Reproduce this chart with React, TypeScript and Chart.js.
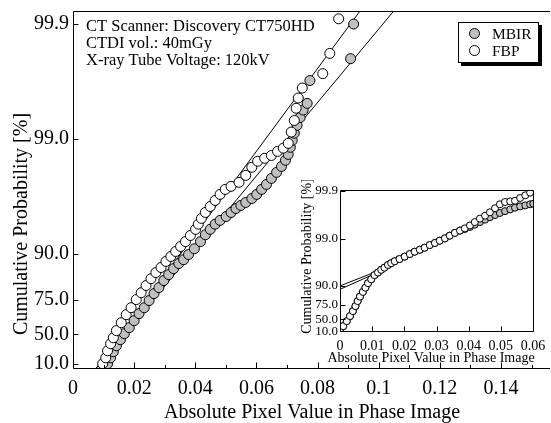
import React, { useEffect, useRef } from 'react';
import { Chart, registerables } from 'chart.js';

Chart.register(...registerables);

// ---------------- data ----------------
const seriesNames = ['MBIR', 'FBP'];
const annotationLines = [
  'CT Scanner: Discovery CT750HD',
  'CTDI vol.: 40mGy',
  'X-ray Tube Voltage: 120kV',
];
const xTitle = 'Absolute Pixel Value in Phase Image';
const yTitle = 'Cumulative Probability [%]';

const yTickPercents = [10, 50, 75, 90, 99, 99.9];
const mainXTicks = [0, 0.01, 0.02, 0.03, 0.04, 0.05, 0.06, 0.07, 0.08, 0.09, 0.1, 0.11, 0.12, 0.13, 0.14, 0.15];
const mainXLabels = ['0', '0.02', '0.04', '0.06', '0.08', '0.1', '0.12', '0.14'];
const insetXTicks = [0, 0.01, 0.02, 0.03, 0.04, 0.05, 0.06];
const insetXLabels = ['0', '0.01', '0.02', '0.03', '0.04', '0.05', '0.06'];

const mainXRange = [0, 0.1544];
const mainYRangePercent = [0, 99.923];
const insetXRange = [0, 0.06];
const insetYRangePercent = [7.3, 99.905];

// main plot, FBP (white)
const fbpX = [0.0097, 0.0107, 0.0113, 0.0123, 0.0132, 0.0142, 0.0158, 0.0174, 0.0190, 0.0207, 0.0223, 0.0239, 0.0255, 0.0271, 0.0288, 0.0304, 0.0320, 0.0336, 0.0352, 0.0368, 0.0384, 0.0401, 0.0410, 0.0420, 0.0433, 0.0449, 0.0465, 0.0481, 0.0498, 0.0517, 0.0543, 0.0565, 0.0585, 0.0604, 0.0627, 0.0649, 0.0669, 0.0688, 0.0704, 0.0714, 0.0724, 0.0730, 0.0737, 0.0750, 0.0817, 0.0840, 0.0869];
const fbpP = [9.9, 20.1, 30.6, 39.7, 46.5, 53.6, 60.4, 66.3, 70.7, 75.1, 78.3, 81.2, 83.6, 85.5, 86.9, 88.4, 89.5, 90.5, 91.4, 92.2, 93.1, 93.9, 94.5, 95.1, 95.65, 96.14, 96.58, 96.97, 97.26, 97.42, 97.62, 97.93, 98.24, 98.44, 98.53, 98.61, 98.72, 98.80, 98.91, 99.13, 99.31, 99.46, 99.56, 99.64, 99.73, 99.82, 99.91];

// main plot, MBIR (grey)
const mbirX = [0.0113, 0.0123, 0.0132, 0.0142, 0.0155, 0.0168, 0.0184, 0.0200, 0.0216, 0.0233, 0.0249, 0.0265, 0.0281, 0.0297, 0.0313, 0.0329, 0.0346, 0.0362, 0.0378, 0.0397, 0.0417, 0.0433, 0.0449, 0.0465, 0.0481, 0.0501, 0.0517, 0.0533, 0.0549, 0.0565, 0.0585, 0.0601, 0.0617, 0.0633, 0.0649, 0.0666, 0.0682, 0.0695, 0.0704, 0.0711, 0.0717, 0.0724, 0.0733, 0.0743, 0.0753, 0.0766, 0.0775, 0.0908, 0.0918];
const mbirP = [9.9, 20.1, 29.2, 37.2, 44.4, 50.7, 56.3, 62.0, 67.0, 70.7, 74.6, 77.9, 80.4, 83.0, 84.9, 86.6, 87.9, 88.8, 89.9, 91.0, 92.2, 93.2, 93.9, 94.5, 94.9, 95.28, 95.65, 95.98, 96.22, 96.44, 96.71, 96.97, 97.26, 97.52, 97.80, 98.05, 98.27, 98.47, 98.64, 98.82, 98.97, 99.11, 99.24, 99.35, 99.44, 99.51, 99.69, 99.80, 99.90];

// main fit lines (end points)
const fbpFitX = [0.0074, 0.0991];
const fbpFitP = [0, 99.95];
const mbirFitX = [0.0074, 0.1108];
const mbirFitP = [0, 99.95];

// inset, FBP
const insetFbpX = [0, 0.0010, 0.0021, 0.0031, 0.0040, 0.0048, 0.0055, 0.0062, 0.0071, 0.0079, 0.0087, 0.0097, 0.0107, 0.0118, 0.0128, 0.0138, 0.0149, 0.0159, 0.0170, 0.0185, 0.0201, 0.0217, 0.0232, 0.0248, 0.0263, 0.0279, 0.0295, 0.0310, 0.0326, 0.0341, 0.0357, 0.0373, 0.0388, 0.0404, 0.0419, 0.0435, 0.0451, 0.0466, 0.0482, 0.0497, 0.0513, 0.0529, 0.0544, 0.0560, 0.0576, 0.0591];
const insetFbpP = [10.8, 30.1, 45.2, 57.1, 66.3, 73.6, 79.3, 83.3, 86.7, 89.2, 91.3, 92.8, 94.1, 94.8, 95.45, 95.9, 96.4, 96.7, 97.0, 97.3, 97.6, 97.88, 98.11, 98.28, 98.44, 98.63, 98.76, 98.89, 99.01, 99.13, 99.24, 99.32, 99.39, 99.47, 99.55, 99.62, 99.67, 99.72, 99.77, 99.81, 99.83, 99.835, 99.84, 99.86, 99.877, 99.892];

// inset, MBIR
const insetMbirX = [0, 0.0010, 0.0021, 0.0031, 0.0040, 0.0048, 0.0055, 0.0062, 0.0071, 0.0079, 0.0087, 0.0097, 0.0107, 0.0118, 0.0128, 0.0138, 0.0149, 0.0159, 0.0170, 0.0185, 0.0201, 0.0217, 0.0232, 0.0248, 0.0263, 0.0279, 0.0295, 0.0310, 0.0326, 0.0341, 0.0357, 0.0373, 0.0388, 0.0404, 0.0419, 0.0435, 0.0451, 0.0466, 0.0482, 0.0497, 0.0513, 0.0529, 0.0544, 0.0560, 0.0576, 0.0591, 0.0601];
const insetMbirP = [10.8, 30.1, 45.2, 57.1, 66.3, 73.6, 79.3, 83.3, 86.7, 89.2, 91.3, 92.8, 94.1, 94.8, 95.45, 95.9, 96.4, 96.7, 97.0, 97.3, 97.6, 97.88, 98.11, 98.28, 98.44, 98.63, 98.76, 98.89, 99.01, 99.13, 99.24, 99.32, 99.37, 99.43, 99.49, 99.55, 99.60, 99.645, 99.68, 99.71, 99.735, 99.756, 99.776, 99.79, 99.80, 99.81, 99.815];

// inset fit lines (visible segments)
const insetFbpFitX = [0, 0.0125];
const insetFbpFitP = [90.07, 95.4];
const insetMbirFitX = [0, 0.0125];
const insetMbirFitP = [88.3, 95.1];

// ---------------- styling ----------------
const SERIF = '"Liberation Serif", "Times New Roman", Times, serif';
const GREY = '#c0c0c0';

const toU = (p: number) => -Math.log(1 - p / 100);
const pts = (xs: number[], ps: number[]) => xs.map((x, i) => ({ x, y: toU(ps[i]) }));

function framePlugin(cfg: any) {
  return {
    id: 'frame',
    afterDraw(chart: any) {
      const { ctx, chartArea: a } = chart;
      const xs = chart.scales.x;
      const ys = chart.scales.y;
      const L = Math.round(a.left) + 0.5;
      const T = Math.round(a.top) + 0.5;
      const B = Math.round(a.bottom) - 0.5;
      const R = Math.round(a.right) + 0.5;
      ctx.save();
      ctx.strokeStyle = '#000';
      ctx.lineWidth = 1;
      ctx.beginPath();
      ctx.moveTo(cfg.closeRight ? R : a.right + 5, T);
      ctx.lineTo(L, T);
      ctx.lineTo(L, B);
      ctx.lineTo(cfg.closeRight ? R : a.right + 5, B);
      if (cfg.closeRight) ctx.lineTo(R, T);
      ctx.stroke();
      ctx.beginPath();
      ys.ticks.forEach((t: any) => {
        const py = Math.round(ys.getPixelForValue(t.value)) + 0.5;
        ctx.moveTo(L, py);
        ctx.lineTo(L + cfg.yLen, py);
      });
      xs.ticks.forEach((t: any) => {
        const px = Math.round(xs.getPixelForValue(t.value)) + 0.5;
        const len = t.label ? cfg.xMajor : cfg.xMinor;
        ctx.moveTo(px, B);
        ctx.lineTo(px, B - len);
      });
      ctx.stroke();

      // axis titles
      ctx.fillStyle = '#000';
      ctx.font = `${cfg.titleSize}px ${SERIF}`;
      ctx.textAlign = 'center';
      ctx.textBaseline = 'alphabetic';
      ctx.fillText(xTitle, cfg.xTitlePos[0], cfg.xTitlePos[1]);
      ctx.save();
      ctx.translate(cfg.yTitlePos[0], cfg.yTitlePos[1]);
      ctx.rotate(-Math.PI / 2);
      ctx.fillText(yTitle, 0, 0);
      ctx.restore();

      if (cfg.extras) cfg.extras(ctx);
      ctx.restore();
    },
  };
}

function drawMainExtras(ctx: CanvasRenderingContext2D) {
  // annotation
  ctx.fillStyle = '#000';
  ctx.textAlign = 'left';
  ctx.textBaseline = 'alphabetic';
  ctx.font = `16.5px ${SERIF}`;
  annotationLines.forEach((s, i) => ctx.fillText(s, 86, 31 + i * 17));

  // legend box with shadow
  const bx = 458, by = 22, bw = 81, bh = 41;
  ctx.fillStyle = '#000';
  ctx.fillRect(bx + 3, by + 3, bw, bh);
  ctx.fillStyle = '#fff';
  ctx.fillRect(bx, by, bw, bh);
  ctx.strokeStyle = '#000';
  ctx.lineWidth = 1;
  ctx.strokeRect(bx + 0.5, by + 0.5, bw - 1, bh - 1);
  const fills = [GREY, '#fff'];
  ctx.font = `15.5px ${SERIF}`;
  seriesNames.forEach((name, i) => {
    const cy = 33.5 + i * 17;
    ctx.beginPath();
    ctx.arc(474.5, cy, 5, 0, Math.PI * 2);
    ctx.fillStyle = fills[i];
    ctx.fill();
    ctx.stroke();
    ctx.fillStyle = '#000';
    ctx.fillText(name, 492, cy + 5.5);
  });
}

export default function App() {
  const mainRef = useRef<HTMLCanvasElement>(null);
  const insetRef = useRef<HTMLCanvasElement>(null);

  useEffect(() => {
    const yTicksU = yTickPercents.map(toU);

    const main = new Chart(mainRef.current as HTMLCanvasElement, {
      type: 'scatter',
      data: {
        datasets: [
          {
            label: seriesNames[1],
            data: pts(fbpX, fbpP),
            backgroundColor: '#fff',
            borderColor: '#000',
            borderWidth: 1,
            pointRadius: 5,
            order: 1,
          },
          {
            label: seriesNames[0],
            data: pts(mbirX, mbirP),
            backgroundColor: GREY,
            borderColor: '#000',
            borderWidth: 1,
            pointRadius: 5,
            order: 2,
          },
          {
            label: 'fit FBP',
            data: pts(fbpFitX, fbpFitP),
            showLine: true,
            borderColor: '#000',
            borderWidth: 1,
            pointRadius: 0,
            order: 3,
          },
          {
            label: 'fit MBIR',
            data: pts(mbirFitX, mbirFitP),
            showLine: true,
            borderColor: '#000',
            borderWidth: 1,
            pointRadius: 0,
            order: 3,
          },
        ],
      } as any,
      options: {
        responsive: false,
        animation: false,
        devicePixelRatio: 1,
        events: [],
        layout: { padding: { top: 11, left: 0, right: 0, bottom: 0 } },
        plugins: { legend: { display: false }, tooltip: { enabled: false } },
        scales: {
          x: {
            type: 'linear',
            min: mainXRange[0],
            max: mainXRange[1],
            grid: { display: false, drawTicks: false },
            border: { display: false },
            afterBuildTicks: (s: any) => { s.ticks = mainXTicks.map((v) => ({ value: v })); },
            afterFit: (s: any) => { s.height = 54; s.paddingLeft = 0; s.paddingRight = 0; },
            ticks: {
              autoSkip: false,
              maxRotation: 0,
              padding: 8,
              color: '#000',
              font: { family: SERIF, size: 20 },
              callback: (_v: any, i: number) => (i % 2 === 0 ? mainXLabels[i / 2] : ''),
            },
          },
          y: {
            type: 'linear',
            min: toU(mainYRangePercent[0]),
            max: toU(mainYRangePercent[1]),
            grid: { display: false, drawTicks: false },
            border: { display: false },
            afterBuildTicks: (s: any) => { s.ticks = yTicksU.map((v) => ({ value: v })); },
            afterFit: (s: any) => { s.width = 73; s.paddingTop = 0; s.paddingBottom = 0; },
            ticks: {
              autoSkip: false,
              padding: 4,
              color: '#000',
              font: { family: SERIF, size: 20 },
              callback: (_v: any, i: number) => yTickPercents[i].toFixed(1),
            },
          },
        },
      } as any,
      plugins: [
        framePlugin({
          closeRight: false,
          yLen: 5,
          xMajor: 6,
          xMinor: 3.5,
          titleSize: 20,
          xTitlePos: [312, 418],
          yTitlePos: [27, 224],
          extras: drawMainExtras,
        }),
      ],
    });

    const inset = new Chart(insetRef.current as HTMLCanvasElement, {
      type: 'scatter',
      data: {
        datasets: [
          {
            label: seriesNames[1],
            data: pts(insetFbpX, insetFbpP),
            backgroundColor: '#fff',
            borderColor: '#000',
            borderWidth: 1,
            pointRadius: 3.5,
            order: 1,
          },
          {
            label: seriesNames[0],
            data: pts(insetMbirX, insetMbirP),
            backgroundColor: GREY,
            borderColor: '#000',
            borderWidth: 1,
            pointRadius: 3.5,
            order: 2,
          },
          {
            label: 'fit FBP',
            data: pts(insetFbpFitX, insetFbpFitP),
            showLine: true,
            borderColor: '#000',
            borderWidth: 1,
            pointRadius: 0,
            order: 3,
          },
          {
            label: 'fit MBIR',
            data: pts(insetMbirFitX, insetMbirFitP),
            showLine: true,
            borderColor: '#000',
            borderWidth: 1,
            pointRadius: 0,
            order: 3,
          },
        ],
      } as any,
      options: {
        responsive: false,
        animation: false,
        devicePixelRatio: 1,
        events: [],
        layout: { padding: { top: 10, left: 0, right: 17, bottom: 0 } },
        plugins: { legend: { display: false }, tooltip: { enabled: false } },
        scales: {
          x: {
            type: 'linear',
            min: insetXRange[0],
            max: insetXRange[1],
            grid: { display: false, drawTicks: false },
            border: { display: false },
            afterBuildTicks: (s: any) => { s.ticks = insetXTicks.map((v) => ({ value: v })); },
            afterFit: (s: any) => { s.height = 38; s.paddingLeft = 0; s.paddingRight = 0; },
            ticks: {
              autoSkip: false,
              maxRotation: 0,
              padding: 6,
              color: '#000',
              font: { family: SERIF, size: 14 },
              callback: (_v: any, i: number) => insetXLabels[i],
            },
          },
          y: {
            type: 'linear',
            min: toU(insetYRangePercent[0]),
            max: toU(insetYRangePercent[1]),
            grid: { display: false, drawTicks: false },
            border: { display: false },
            afterBuildTicks: (s: any) => { s.ticks = yTicksU.map((v) => ({ value: v })); },
            afterFit: (s: any) => { s.width = 50; s.paddingTop = 0; s.paddingBottom = 0; },
            ticks: {
              autoSkip: false,
              padding: 2,
              color: '#000',
              font: { family: SERIF, size: 13 },
              callback: (_v: any, i: number) => yTickPercents[i].toFixed(1),
            },
          },
        },
      } as any,
      plugins: [
        framePlugin({
          closeRight: true,
          yLen: 5,
          xMajor: 5,
          xMinor: 5,
          titleSize: 14,
          xTitlePos: [141, 182],
          yTitlePos: [21, 76],
        }),
      ],
    });

    return () => {
      main.destroy();
      inset.destroy();
    };
  }, []);

  return (
    <div style={{ position: 'fixed', left: 0, top: 0, width: 551, height: 423, background: '#fff', overflow: 'hidden' }}>
      <canvas ref={mainRef} width={551} height={423} style={{ position: 'absolute', left: 0, top: 0 }} />
      <canvas ref={insetRef} width={260} height={190} style={{ position: 'absolute', left: 290, top: 180 }} />
    </div>
  );
}
